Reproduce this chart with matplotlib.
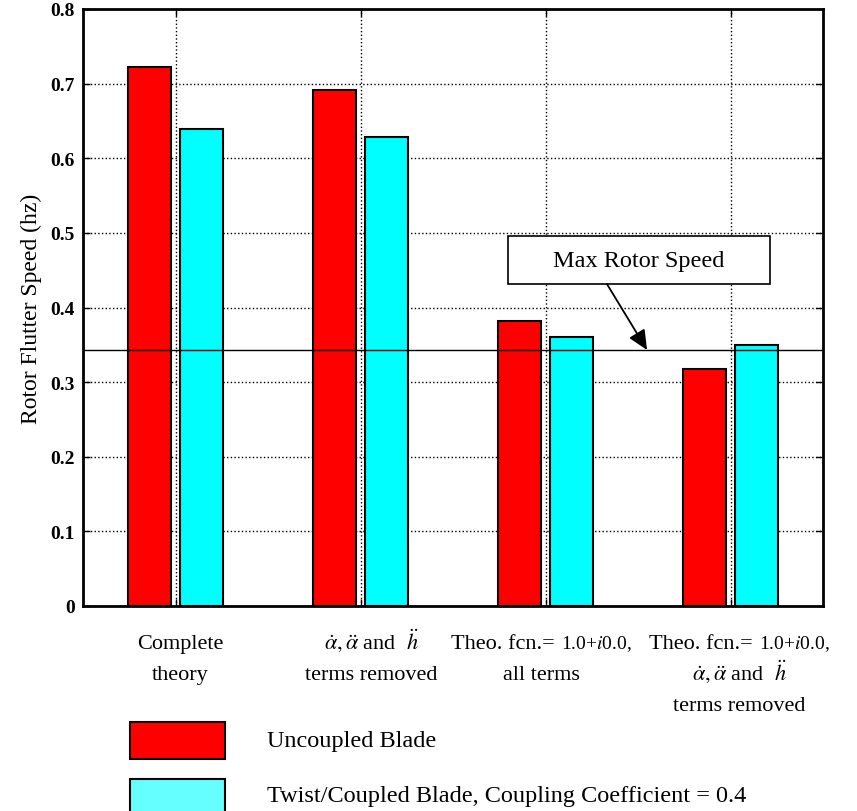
import matplotlib
matplotlib.use("Agg")
import matplotlib.pyplot as plt
from matplotlib.patches import Rectangle
import numpy as np

# ---- data ----
theo_prefix = "Theo. fcn.= "
theo_value = r"1.0+$i$0.0,"
alpha_h = r"$\dot{\alpha},\ddot{\alpha}$ and  $\ddot{h}$"
# each category: list of lines; each line: list of (text, is_small) segments
categories = [
    [[("Complete", False)], [("theory", False)]],
    [[(alpha_h, False)], [("terms removed", False)]],
    [[(theo_prefix, False), (theo_value, True)], [("all terms", False)]],
    [[(theo_prefix, False), (theo_value, True)], [(alpha_h, False)], [("terms removed", False)]],
]
uncoupled = [0.722, 0.691, 0.382, 0.318]
coupled = [0.639, 0.628, 0.360, 0.350]
max_rotor_speed = 0.343
yticks = [0, 0.1, 0.2, 0.3, 0.4, 0.5, 0.6, 0.7, 0.8]
ytick_labels = ["0", "0.1", "0.2", "0.3", "0.4", "0.5", "0.6", "0.7", "0.8"]
legend_labels = ["Uncoupled Blade", "Twist/Coupled Blade, Coupling Coefficient = 0.4"]

plt.rcParams['font.family'] = ['Liberation Serif', 'DejaVu Serif']
plt.rcParams['mathtext.fontset'] = 'stix'

W, H = 857, 812
fig = plt.figure(figsize=(W/100, H/100), dpi=100)
ax = fig.add_axes([83/W, 1-607/H, (823-83)/W, (607-10)/H])

x = np.arange(1, len(categories)+1)
w = 0.232
off = 0.142
ax.bar(x - off, uncoupled, w, color='#FF0000', edgecolor='black', linewidth=1.5, zorder=3)
ax.bar(x + off, coupled, w, color='#00FFFF', edgecolor='black', linewidth=1.5, zorder=3)

ax.axhline(max_rotor_speed, color='black', linewidth=1.0, zorder=4)

ax.set_xlim(0.5, 4.5)
ax.set_ylim(0, 0.8)
ax.set_yticks(yticks)
ax.set_yticklabels(ytick_labels, fontsize=14, fontweight='bold')
ax.set_xticks(x)
ax.set_xticklabels([""] * len(x))
ax.tick_params(direction='in', length=5, width=1, top=True, right=True, pad=6)
ax.grid(True, linestyle=':', color='black', linewidth=1.0, zorder=0)
for s in ax.spines.values():
    s.set_linewidth(2)
ax.set_ylabel("Rotor Flutter Speed (hz)", fontsize=17, labelpad=6)

# ---- category labels under the axis ----
renderer = fig.canvas.get_renderer()
big, small = 16, 14
baselines_px = [649, 680, 711]       # pixel rows from top
group_dx = [5, 11, -4, 9]            # horizontal nudges in pixels
for gi, lines in enumerate(categories):
    xc_disp = ax.transData.transform((x[gi], 0))[0] + group_dx[gi]
    for li, segs in enumerate(lines):
        yb = 1 - baselines_px[li] / H
        texts = []
        for s, is_small in segs:
            t = fig.text(0, yb, s, fontsize=small if is_small else big, ha='left', va='baseline')
            texts.append(t)
        widths = [t.get_window_extent(renderer).width for t in texts]
        total = sum(widths)
        cur = xc_disp - total / 2
        for t, wd in zip(texts, widths):
            t.set_x(cur / W)
            cur += wd

# ---- annotation box ----
ax.add_patch(Rectangle((2.797, 0.4315), 4.214-2.797, 0.4958-0.4315, facecolor='white',
                       edgecolor='black', linewidth=1.2, zorder=6))
ax.text((2.797+4.214)/2, (0.4315+0.4958)/2, "Max Rotor Speed", ha='center', va='center',
        fontsize=17.5, zorder=7)
ax.annotate("", xy=(3.549, max_rotor_speed), xytext=(3.332, 0.4315),
            arrowprops=dict(arrowstyle='-|>,head_length=1.2,head_width=0.55', color='black', lw=1.3,
                            shrinkA=0, shrinkB=0), zorder=6)

# ---- legend ----
fig.patches.append(Rectangle((130/W, 1-760/H), 95/W, 37/H, transform=fig.transFigure,
                             facecolor='#FF0000', edgecolor='black', linewidth=1.5))
fig.patches.append(Rectangle((130/W, 1-816/H), 95/W, 36/H, transform=fig.transFigure,
                             facecolor='#66FFFF', edgecolor='black', linewidth=1.5))
fig.text(267/W, 1-742/H, legend_labels[0], fontsize=17.5, va='center', ha='left')
fig.text(267/W, 1-797/H, legend_labels[1], fontsize=17.5, va='center', ha='left')

fig.savefig("out.png", dpi=100)
